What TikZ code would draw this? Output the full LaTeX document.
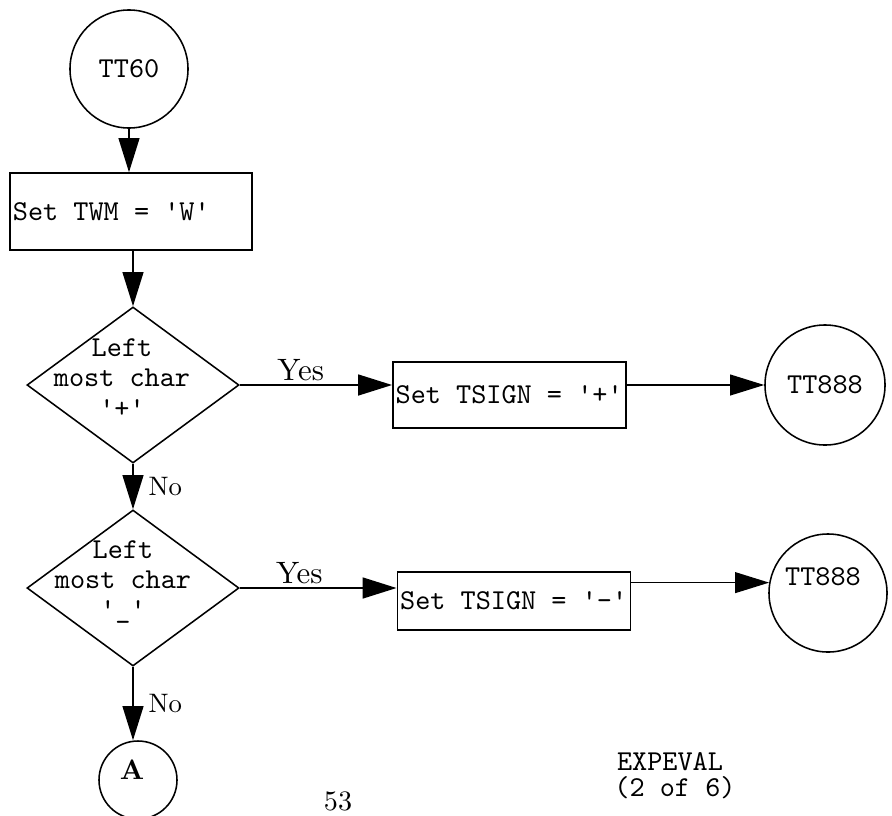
\documentclass[tikz,border=0pt]{standalone}
\usepackage{fontspec}
\setmainfont{lmroman10-regular.otf}[BoldFont=lmroman10-bold.otf]
\setmonofont{lmmono10-regular.otf}
\usepackage{tikz}
\usetikzlibrary{calc,positioning,shapes.geometric,arrows.meta}

\newcommand{\ttt}{\ttfamily\fontsize{20.5}{21.6}\selectfont}
\newcommand{\rmt}{\rmfamily\fontsize{19}{22}\selectfont}
\newcommand{\sq}{\textquotesingle}
\newcommand{\ws}{\hspace{0.525em}}

\tikzset{
	term/.style={draw, circle, line width=1.1pt, inner sep=0pt, font=\ttt},
	proc/.style={draw, rectangle, line width=1.1pt, inner xsep=2pt, inner ysep=0pt, align=left, font=\ttt},
	dec/.style={draw, diamond, line width=1.1pt, inner sep=0pt, minimum width=5.3cm, minimum height=3.9cm},
	arr/.style={line width=1.2pt, -{Triangle[length=0.85cm, width=0.52cm]}},
	lbl/.style={font=\rmt, inner sep=2pt},
	yes/.style={lbl, font=\rmfamily\fontsize{22}{24}\selectfont},
}

\begin{document}
\begin{tikzpicture}[x=0.025cm, y=-0.025cm]
	\useasboundingbox (0,0) rectangle (892,815);

	\node[term, minimum size=2.95cm] (tt60) at (129,69) {TT60};
	\node[proc, text width=5.9cm, minimum height=1.925cm] (twm) at (131,211.5) {Set\ws TWM\ws=\ws\sq W\sq};

	\node[dec] (d1) at (133,385) {};
	\node[align=center, font=\ttt] (d1txt) at (122,378) {Left\\most\ws char\\\sq+\sq};
	\node[proc, text width=5.69cm, minimum height=1.65cm] (plus) at (509.5,395) {Set\ws TSIGN\ws=\ws\sq+\sq};
	\node[term, minimum size=3cm] (tt888a) at (825,385) {TT888};

	\node[dec] (d2) at (133,588) {};
	\node[align=center, font=\ttt] (d2txt) at (123,582) {Left\\most\ws char\\\sq\_\sq};
	\node[proc, text width=5.69cm, minimum height=1.45cm] (minus) at (514,601) {Set\ws TSIGN\ws=\ws\sq\textendash\sq};
	\node[term, minimum size=2.95cm] (tt888b) at (828,593) {};
	\node[font=\ttt] (tt888btxt) at (823,577) {TT888};

	\node[term, minimum size=1.95cm] (a) at (138,780) {};
	\node[font=\rmfamily\fontsize{20}{22}\selectfont\bfseries] (atxt) at (132,770) {A};

	\draw[arr] (tt60) -- (tt60 |- twm.north);
	\draw[arr] (d1.north |- twm.south) -- (d1.north);
	\draw[arr, line width=1.6pt] (d1.east) -- (d1.east -| plus.west) node[yes, pos=0.4, above] (yes1) {Yes};
	\draw[arr, line width=1pt] (plus.east |- tt888a.west) -- (tt888a.west);
	\draw[arr] (d1.south) -- (d2.north) node[lbl, midway, right=0.3cm] (no1) {No};
	\draw[arr, line width=1.6pt] (d2.east) -- (d2.east -| minus.west) node[yes, pos=0.38, above] (yes2) {Yes};
	\draw[arr, line width=1pt] (minus.east |- tt888b.170) -- (tt888b.170);
	\draw[arr] (d2.south) -- (d2.south |- a.north) node[lbl, midway, right=0.3cm] (no2) {No};

	\node[font=\rmfamily\fontsize{20}{22}\selectfont] (pg) at (338,801) {53};
	\node[anchor=base, inner sep=0pt, font=\ttt] (doc1) at (670,770) {EXPEVAL};
	\node[anchor=base, inner sep=0pt, font=\ttt] (doc2) at (675,796) {(2\ws of\ws 6)};
\end{tikzpicture}
\end{document}
